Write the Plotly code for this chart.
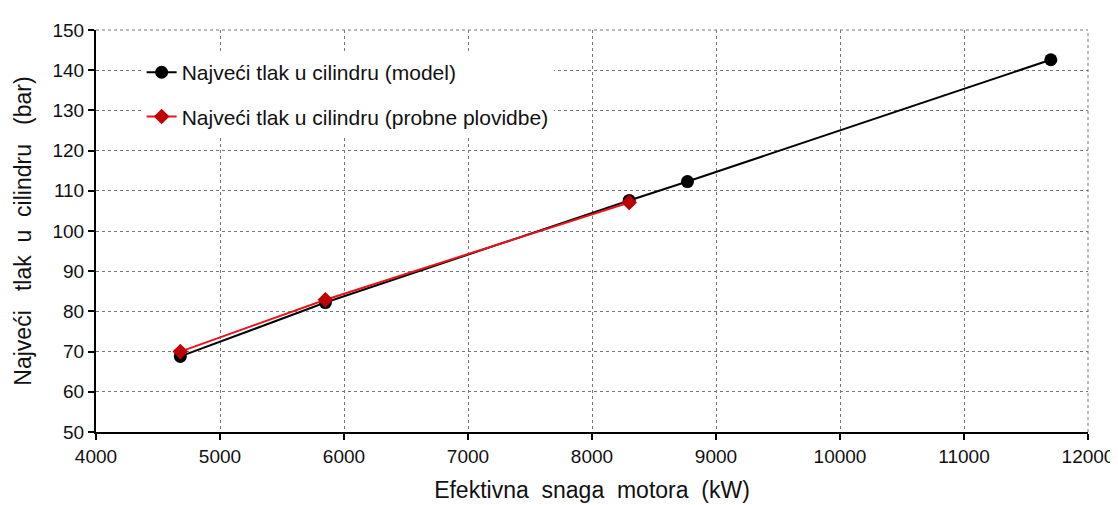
import plotly.graph_objects as go

model_x = [4680, 5850, 8300, 8770, 11700]
model_y = [68.8, 82.2, 107.6, 112.3, 142.6]
trial_x = [4680, 5850, 8300]
trial_y = [70.0, 82.9, 107.1]

x_ticks = list(range(4000, 12001, 1000))
y_ticks = list(range(50, 151, 10))

FONT = "Liberation Sans, Arial, sans-serif"
NB = "\u00a0"

fig = go.Figure()
fig.add_trace(go.Scatter(
    x=model_x, y=model_y, mode="lines+markers",
    name="Najveći tlak u cilindru (model)",
    line=dict(color="black", width=2),
    marker=dict(symbol="circle", size=13, color="black"),
    legendgroup="a",
))
fig.add_trace(go.Scatter(
    x=trial_x, y=trial_y, mode="lines+markers",
    name="Najveći tlak u cilindru (probne plovidbe)",
    line=dict(color="#e8141c", width=2),
    marker=dict(symbol="diamond", size=12, color="#c00000"),
    legendgroup="b",
))

axis_common = dict(
    showline=True, linecolor="black", linewidth=2,
    ticks="outside", ticklen=6, tickwidth=2, tickcolor="black",
    showgrid=True, gridcolor="#777777", gridwidth=1, griddash="dot",
    zeroline=False,
    tickfont=dict(family=FONT, size=19, color="#111111"),
)

x_title = (NB * 2).join("Efektivna snaga motora (kW)".split(" "))
y_title = "Najveći" + NB * 3 + "tlak" + NB * 2 + "u" + NB * 2 + "cilindru" + NB * 3 + "(bar)"

fig.update_xaxes(
    range=[4000, 12000], tickvals=x_ticks, ticktext=[str(v) for v in x_ticks],
    title=dict(text=x_title, font=dict(family=FONT, size=23, color="#111111"), standoff=16),
    **axis_common,
)
fig.update_yaxes(
    range=[50, 150], tickvals=y_ticks, ticktext=[str(v) for v in y_ticks],
    title=dict(text=y_title, font=dict(family=FONT, size=23, color="#111111"), standoff=14),
    **axis_common,
)

# dashed border on top/right
fig.add_shape(type="line", xref="paper", yref="paper", x0=0, x1=1, y0=1, y1=1,
              line=dict(color="#777777", width=1, dash="dot"))
fig.add_shape(type="line", xref="paper", yref="paper", x0=1, x1=1, y0=0, y1=1,
              line=dict(color="#777777", width=1, dash="dot"))

fig.update_layout(
    width=1118, height=505,
    margin=dict(l=88, r=38, t=14, b=81),
    plot_bgcolor="white", paper_bgcolor="white",
    showlegend=True,
    legend=dict(
        x=0.046, y=0.945, xanchor="left", yanchor="top",
        bgcolor="white", borderwidth=0,
        font=dict(family=FONT, size=21, color="#111111"),
        traceorder="grouped", tracegroupgap=14,
    ),
)

fig.write_html("out.html")
